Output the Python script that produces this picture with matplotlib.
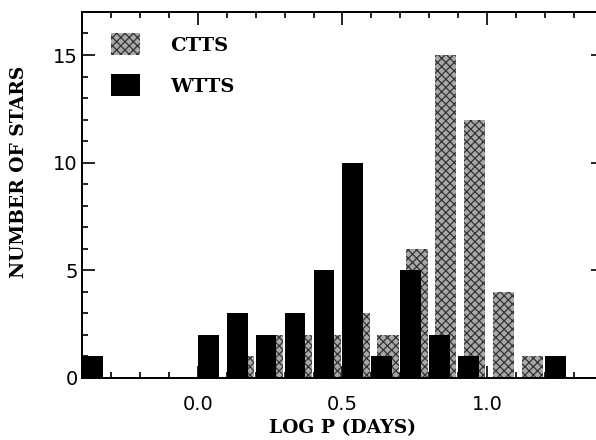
import numpy as np
import matplotlib; matplotlib.use("Agg")
import matplotlib.pyplot as plt
from matplotlib.patches import Patch

plt.rcParams.update({"font.family": "DejaVu Sans", "hatch.linewidth": 0.9})

# bins de 0.1 em log P (borda esquerda)
bins = [-0.4, -0.3, -0.2, -0.1, 0.0, 0.1, 0.2, 0.3, 0.4, 0.5, 0.6, 0.7, 0.8, 0.9, 1.0, 1.1, 1.2, 1.3]
ctts = [0, 0, 0, 0, 0, 1, 2, 2, 2, 3, 2, 6, 15, 12, 4, 1, 0, 0]
wtts = [1, 0, 0, 0, 2, 3, 2, 3, 5, 10, 1, 5, 2, 1, 0, 0, 1, 0]
xticks = [0.0, 0.5, 1.0]
xticklabels = ["0.0", "0.5", "1.0"]
yticks = [0, 5, 10, 15]
yticklabels = ["0", "5", "10", "15"]

serif = {"family": "DejaVu Serif", "weight": "bold", "size": 13.5}
CINZA = "#a8a8a8"; PONTO = "#333333"

fig = plt.figure(figsize=(5.96, 4.4), dpi=100)
ax = fig.add_axes([0.1376, 0.141, 0.874, 0.8318])

b = np.array(bins)
# CTTS atras, deslocado p/ direita
ax.bar(b + 0.02, ctts, width=0.074, align="edge", facecolor=CINZA,
       edgecolor=PONTO, hatch="xxxx", linewidth=0, zorder=1)
ax.bar(b, wtts, width=0.072, align="edge", color="black", linewidth=0, zorder=2)

ax.set_xlim(-0.4, 1.4)
ax.set_ylim(0, 17)
ax.set_xticks(xticks)
ax.set_xticklabels(xticklabels, fontsize=14)
ax.set_xticks(np.arange(-0.4, 1.41, 0.1), minor=True)
ax.set_yticks(yticks)
ax.set_yticklabels(yticklabels, fontsize=14)
ax.set_yticks(np.arange(0, 17, 1), minor=True)
ax.tick_params(which="both", direction="in", top=True, right=True, width=1.2)
ax.tick_params(which="major", length=9)
ax.tick_params(which="minor", length=4.5)
ax.tick_params(axis="x", which="major", pad=12)
ax.tick_params(axis="y", which="major", pad=3)
for s in ax.spines.values():
    s.set_linewidth(1.4)

ax.set_xlabel("LOG P (DAYS)", fontdict=serif, labelpad=4)
ax.set_ylabel("NUMBER OF STARS", fontdict=serif)
ax.yaxis.set_label_coords(-0.104, 0.563)

h = [Patch(facecolor=CINZA, edgecolor=PONTO, hatch="xxxx", linewidth=0),
     Patch(facecolor="black", linewidth=0)]
ax.legend(h, ["CTTS", "WTTS"], loc="upper left", bbox_to_anchor=(0.022, 0.99),
          frameon=False, prop={"family": "DejaVu Serif", "weight": "bold", "size": 14},
          handlelength=1.5, handleheight=1.35, labelspacing=1.0, handletextpad=1.55)

fig.savefig("out.png", dpi=100)
